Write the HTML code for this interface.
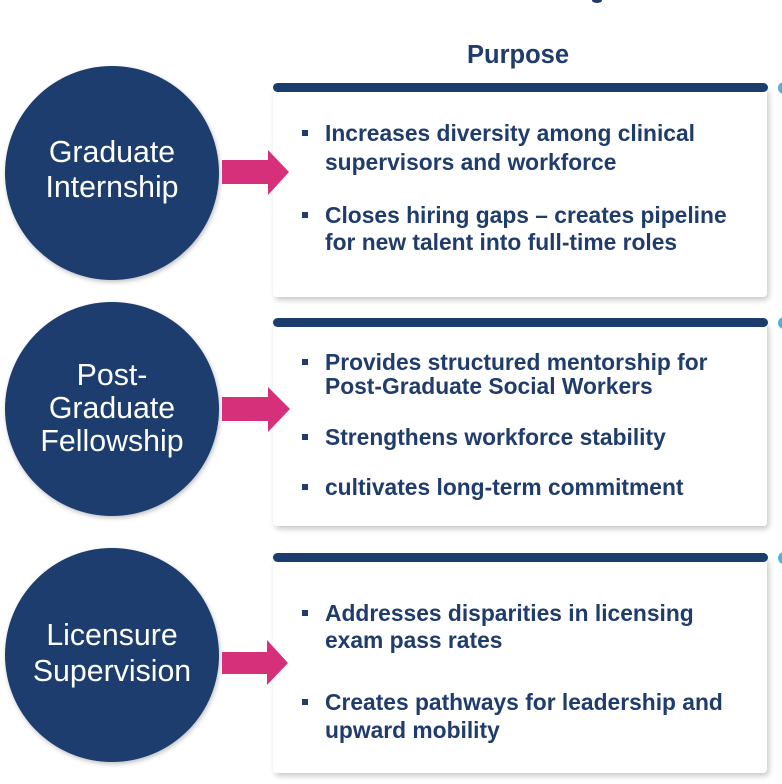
<!DOCTYPE html>
<html>
<head>
<meta charset="utf-8">
<style>
  html, body { margin:0; padding:0; background:#ffffff; }
  body { width:782px; height:784px; overflow:hidden; }
  svg { display:block; }
  .b { font-family:"Liberation Sans", Arial, sans-serif; font-weight:bold; font-size:22.8px; fill:#1f3c6c; }
  .c { font-family:"Liberation Sans", Arial, sans-serif; font-size:30.3px; fill:#ffffff; }
</style>
</head>
<body>
<svg width="782" height="784" viewBox="0 0 782 784" xmlns="http://www.w3.org/2000/svg">
  <defs>
    <filter id="sh" x="-5%" y="-5%" width="115%" height="120%">
      <feGaussianBlur in="SourceAlpha" stdDeviation="3"/>
      <feOffset dx="2" dy="3" result="o"/>
      <feComponentTransfer><feFuncA type="linear" slope="0.22"/></feComponentTransfer>
      <feMerge><feMergeNode/><feMergeNode in="SourceGraphic"/></feMerge>
    </filter>
    <filter id="csh" x="-10%" y="-10%" width="125%" height="125%">
      <feGaussianBlur in="SourceAlpha" stdDeviation="2.5"/>
      <feOffset dx="1" dy="2" result="o"/>
      <feComponentTransfer><feFuncA type="linear" slope="0.25"/></feComponentTransfer>
      <feMerge><feMergeNode/><feMergeNode in="SourceGraphic"/></feMerge>
    </filter>
  </defs>

  <!-- cut-off title fragment -->
  <ellipse cx="597" cy="0.5" rx="5" ry="2.5" fill="#1f3c6c"/>

  <!-- heading -->
  <text x="518" y="63" text-anchor="middle" font-family="Liberation Sans, Arial, sans-serif" font-weight="bold" font-size="25.5" fill="#1f3c6c">Purpose</text>

  <!-- cards -->
  <rect x="273" y="87" width="494" height="210" rx="4" fill="#ffffff" filter="url(#sh)"/>
  <rect x="273" y="322" width="494" height="204" rx="4" fill="#ffffff" filter="url(#sh)"/>
  <rect x="273" y="557" width="494" height="216" rx="4" fill="#ffffff" filter="url(#sh)"/>

  <!-- bars -->
  <rect x="273" y="83" width="495" height="9" rx="4.5" fill="#1b3d6e"/>
  <rect x="273" y="318" width="495" height="9" rx="4.5" fill="#1b3d6e"/>
  <rect x="273" y="553" width="495" height="9" rx="4.5" fill="#1b3d6e"/>

  <!-- light blue dots at right edge -->
  <circle cx="784" cy="88" r="6" fill="#4fb3d9"/>
  <circle cx="784" cy="323" r="6" fill="#4fb3d9"/>
  <circle cx="784" cy="558" r="6" fill="#4fb3d9"/>

  <!-- circles -->
  <circle cx="112" cy="173" r="107" fill="#1b3d6e" filter="url(#csh)"/>
  <circle cx="112" cy="409" r="107" fill="#1b3d6e" filter="url(#csh)"/>
  <circle cx="112" cy="655" r="107" fill="#1b3d6e" filter="url(#csh)"/>

  <text class="c" x="112" y="162" text-anchor="middle">Graduate</text>
  <text class="c" x="112" y="197" text-anchor="middle">Internship</text>

  <text class="c" x="112" y="385" text-anchor="middle">Post-</text>
  <text class="c" x="112" y="418" text-anchor="middle">Graduate</text>
  <text class="c" x="112" y="451" text-anchor="middle">Fellowship</text>

  <text class="c" x="112" y="645" text-anchor="middle">Licensure</text>
  <text class="c" x="112" y="681" text-anchor="middle">Supervision</text>

  <!-- arrows -->
  <polygon points="222,160 268,160 268,150 289,172 268,195 268,184 222,184" fill="#d6307b"/>
  <polygon points="222,397 268,397 268,387 290,409 268,432 268,421 222,421" fill="#d6307b"/>
  <polygon points="222,652 267,652 267,640 288,663 267,685 267,674 222,674" fill="#d6307b"/>

  <!-- card 1 text -->
  <rect x="302" y="130" width="6" height="6" fill="#1f3c6c"/>
  <text class="b" x="325" y="141">Increases diversity among clinical</text>
  <text class="b" x="325" y="170">supervisors and workforce</text>
  <rect x="302" y="212" width="6" height="6" fill="#1f3c6c"/>
  <text class="b" x="325" y="223">Closes hiring gaps – creates pipeline</text>
  <text class="b" x="325" y="250">for new talent into full-time roles</text>

  <!-- card 2 text -->
  <rect x="302" y="359" width="6" height="6" fill="#1f3c6c"/>
  <text class="b" x="325" y="370">Provides structured mentorship for</text>
  <text class="b" x="325" y="394">Post-Graduate Social Workers</text>
  <rect x="302" y="434" width="6" height="6" fill="#1f3c6c"/>
  <text class="b" x="325" y="445">Strengthens workforce stability</text>
  <rect x="302" y="484" width="6" height="6" fill="#1f3c6c"/>
  <text class="b" x="325" y="495">cultivates long-term commitment</text>

  <!-- card 3 text -->
  <rect x="302" y="610" width="6" height="6" fill="#1f3c6c"/>
  <text class="b" x="325" y="621">Addresses disparities in licensing</text>
  <text class="b" x="325" y="648">exam pass rates</text>
  <rect x="302" y="699" width="6" height="6" fill="#1f3c6c"/>
  <text class="b" x="325" y="710">Creates pathways for leadership and</text>
  <text class="b" x="325" y="738">upward mobility</text>
</svg>
</body>
</html>
